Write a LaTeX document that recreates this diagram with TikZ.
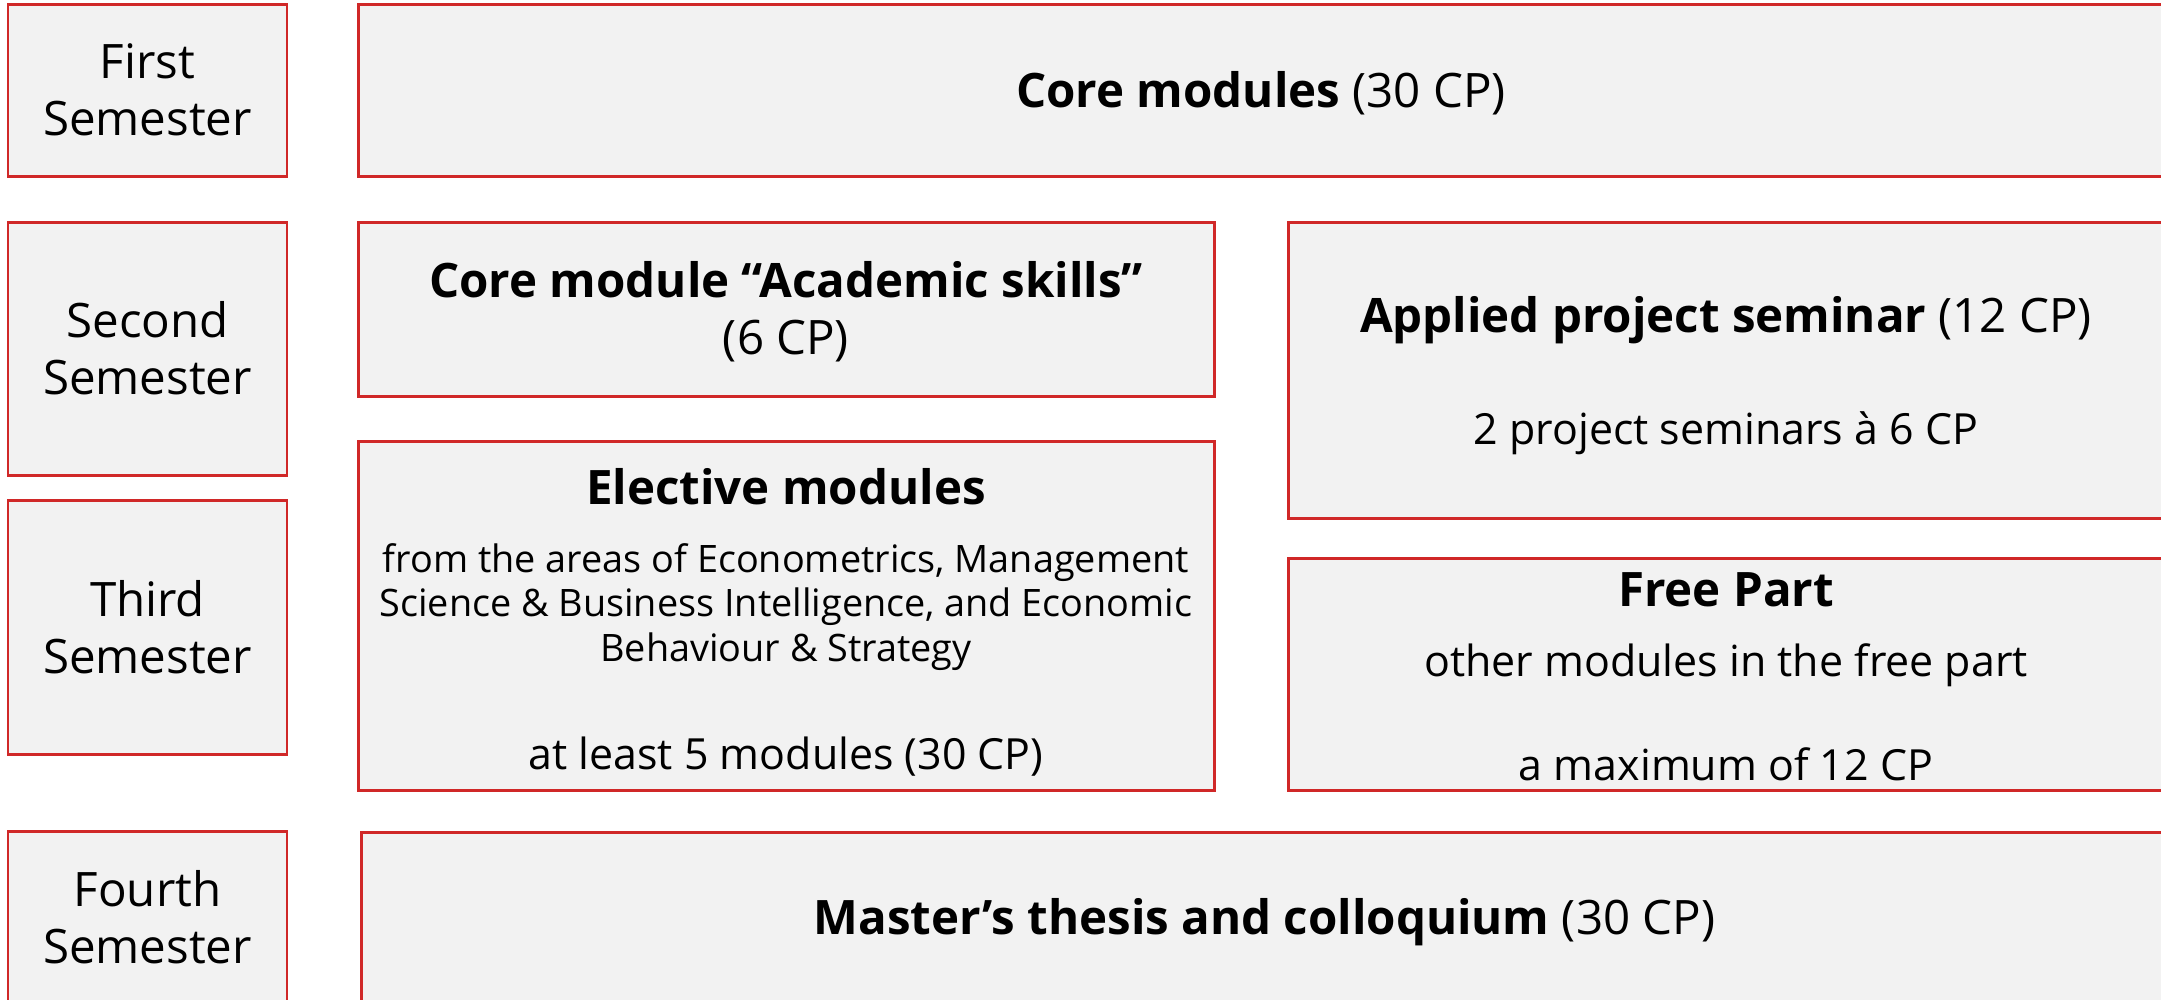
\documentclass[tikz,border=0pt]{standalone}
\usepackage{fontspec}
\setmainfont{Open Sans}
\definecolor{boxred}{RGB}{208,40,40}
\definecolor{boxgray}{RGB}{242,242,242}
\newcommand{\bigtxt}{\fontsize{13.5}{16.2}\selectfont}
\newcommand{\midtxt}{\fontsize{12.2}{14.6}\selectfont}
\newcommand{\smalltxt}{\fontsize{10.75}{12.6}\selectfont}
\tikzset{
  box/.style={draw=boxred, fill=boxgray, line width=0.85pt, inner sep=0pt},
  label/.style={align=center, inner sep=0pt, font=\bigtxt},
  note/.style={label, font=\midtxt},
}
\begin{document}
\begin{tikzpicture}[x=0.01cm, y=-0.01cm]
    \clip (0, 0) rectangle (2161, 999);

    % Semester column
    \foreach \name/\y/\h/\lab in {sem1/90/172/First, sem2/348.5/253/Second,
                                  sem3/627/254/Third, sem4/917/172/Fourth} {
      \node [box, minimum width=279*0.01cm, minimum height=\h*0.01cm]
            (\name) at (147.5, \y) {};
      \node [label] (\name text) at (\name) {\lab\\Semester};
    }

    % First semester
    \node [box, minimum width=1806*0.01cm, minimum height=172*0.01cm]
          (core) at (1261, 90) {};
    \node [label] (coretext) at (1261, 93) {\textbf{Core modules} (30 CP)};

    % Second and third semester, left
    \node [box, minimum width=856*0.01cm, minimum height=174*0.01cm]
          (skills) at (786, 309) {};
    \node [label] (skillstext) at (786, 312)
          {\textbf{Core module “Academic skills”}\\(6 CP)};

    \node [box, minimum width=856*0.01cm, minimum height=349*0.01cm]
          (elective) at (786, 615.5) {};
    \node [label] (electivetitle) at (786, 487) {\textbf{Elective modules}};
    \node [label, font=\smalltxt] (electivebody) at (786, 607)
          {from the areas of Econometrics, Management\\
           Science \& Business Intelligence, and Economic\\
           Behaviour \& Strategy};
    \node [note] (electivecp) at (786, 757) {at least 5 modules (30 CP)};

    % Second and third semester, right
    \node [box, minimum width=876*0.01cm, minimum height=296*0.01cm]
          (applied) at (1726, 370) {};
    \node [label] (appliedtitle) at (1726, 320)
          {\textbf{Applied project seminar} (12 CP)};
    \node [note] (appliedcp) at (1726, 433) {2 project seminars à 6 CP};

    \node [box, minimum width=876*0.01cm, minimum height=232*0.01cm]
          (free) at (1726, 674) {};
    \node [label] (freetitle) at (1726, 590) {\textbf{Free Part}};
    \node [note] (freebody) at (1726, 665) {other modules in the free part};
    \node [note] (freecp) at (1726, 764) {a maximum of 12 CP};

    % Fourth semester
    \node [box, minimum width=1807*0.01cm, minimum height=171*0.01cm]
          (thesis) at (1264.5, 917.5) {};
    \node [label] (thesistext) at (1264.5, 922)
          {\textbf{Master’s thesis and colloquium} (30 CP)};
\end{tikzpicture}
\end{document}
